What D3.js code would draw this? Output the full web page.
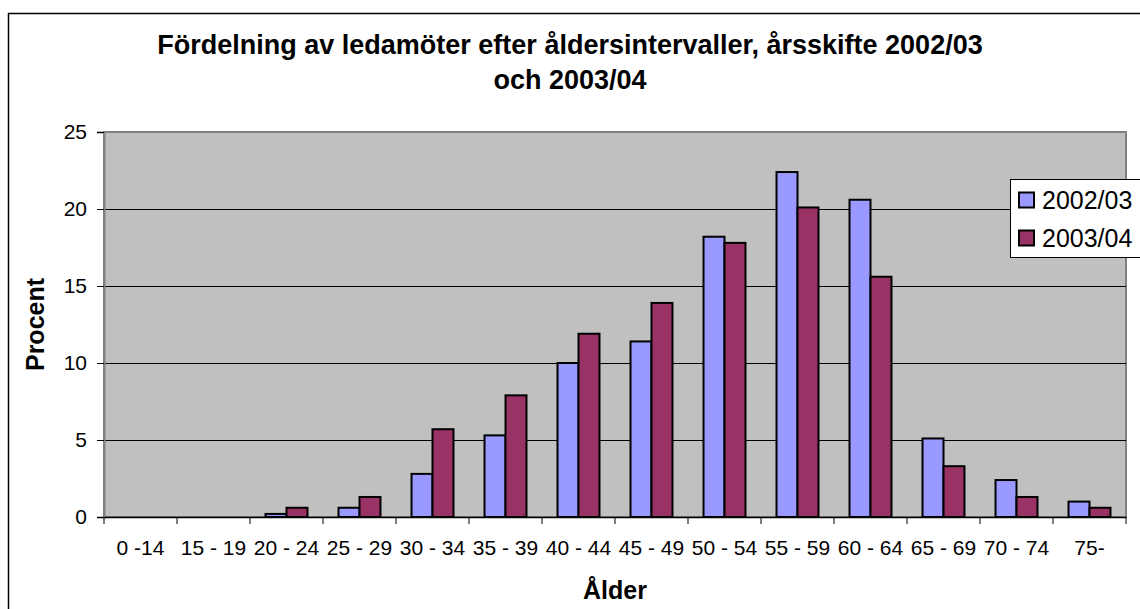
<!DOCTYPE html>
<html>
<head>
<meta charset="utf-8">
<script src="https://cdn.jsdelivr.net/npm/d3@7"></script>
<style>
  body { margin: 0; background: #fff; }
  svg { display: block; font-family: "Liberation Sans", Arial, sans-serif; }
</style>
</head>
<body>
<svg id="chart" width="1140" height="609"></svg>
<script>
// data
var categories = ["0 -14", "15 - 19", "20 - 24", "25 - 29", "30 - 34", "35 - 39", "40 - 44",
                  "45 - 49", "50 - 54", "55 - 59", "60 - 64", "65 - 69", "70 - 74", "75-"];
var series = ["2002/03", "2003/04"];
var values0203 = [0, 0, 0.2, 0.6, 2.8, 5.3, 10.0, 11.4, 18.2, 22.4, 20.6, 5.1, 2.4, 1.0];
var values0304 = [0, 0, 0.6, 1.3, 5.7, 7.9, 11.9, 13.9, 17.8, 20.1, 15.6, 3.3, 1.3, 0.6];
var yTicks = [0, 5, 10, 15, 20, 25];
var colors = ["#9999ff", "#993366"];

var svg = d3.select("#chart");
var plot = { left: 104, right: 1126, top: 132, bottom: 517 };

// outer frame
svg.append("rect")
    .attr("x", 8.5).attr("y", 13.5)
    .attr("width", 1140).attr("height", 620)
    .attr("fill", "#fff").attr("stroke", "#000").attr("stroke-width", 1.5);

var x = d3.scaleBand()
    .domain(categories)
    .range([plot.left, plot.right])
    .paddingInner(0).paddingOuter(0);

var x1 = d3.scaleBand()
    .domain(series)
    .range([0, x.bandwidth()])
    .paddingOuter(0.74);

var y = d3.scaleLinear()
    .domain([0, 25])
    .range([plot.bottom, plot.top]);

// plot area background
svg.append("rect")
    .attr("x", plot.left).attr("y", plot.top)
    .attr("width", plot.right - plot.left).attr("height", plot.bottom - plot.top)
    .attr("fill", "#c0c0c0").attr("stroke", "#808080").attr("stroke-width", 2);

// gridlines
svg.append("g").selectAll("line")
    .data(yTicks.filter(function (d) { return d > 0 && d < 25; }))
    .enter().append("line")
    .attr("x1", plot.left).attr("x2", plot.right)
    .attr("y1", function (d) { return Math.round(y(d)) + 0.5; })
    .attr("y2", function (d) { return Math.round(y(d)) + 0.5; })
    .attr("stroke", "#000").attr("stroke-width", 1);

// bars
var rows = categories.map(function (c, i) {
    return { cat: c, vals: [values0203[i], values0304[i]] };
});

var groups = svg.append("g").selectAll("g")
    .data(rows)
    .enter().append("g")
    .attr("transform", function (d) { return "translate(" + x(d.cat) + ",0)"; });

groups.selectAll("rect")
    .data(function (d) {
        return d.vals.map(function (v, j) { return { s: series[j], v: v, j: j }; })
            .filter(function (e) { return e.v > 0; });
    })
    .enter().append("rect")
    .attr("x", function (d) { return x1(d.s); })
    .attr("y", function (d) { return y(d.v); })
    .attr("width", x1.bandwidth())
    .attr("height", function (d) { return y(0) - y(d.v); })
    .attr("fill", function (d) { return colors[d.j]; })
    .attr("stroke", "#000").attr("stroke-width", 2);

// y axis
var yAxis = svg.append("g")
    .attr("transform", "translate(" + plot.left + ",0)")
    .call(d3.axisLeft(y).tickValues(yTicks).tickSize(7).tickPadding(10));
yAxis.select(".domain").attr("stroke", "#808080").attr("stroke-width", 2);
yAxis.selectAll(".tick line").attr("stroke", "#000");
yAxis.selectAll("text").attr("font-size", 21).attr("fill", "#000")
    .attr("font-family", "Liberation Sans, Arial, sans-serif");

// x axis
var xAxis = svg.append("g")
    .attr("transform", "translate(0," + plot.bottom + ")")
    .call(d3.axisBottom(x).tickSize(0).tickPadding(0));
xAxis.select(".domain").attr("stroke", "#000").attr("stroke-width", 1.5);
xAxis.selectAll("text").attr("font-size", 21).attr("fill", "#000")
    .attr("dy", null).attr("y", 38)
    .attr("font-family", "Liberation Sans, Arial, sans-serif");
svg.append("g").selectAll("line")
    .data(categories.concat(["end"]))
    .enter().append("line")
    .attr("x1", function (d) { return d === "end" ? plot.right : x(d); })
    .attr("x2", function (d) { return d === "end" ? plot.right : x(d); })
    .attr("y1", plot.bottom).attr("y2", plot.bottom + 7)
    .attr("stroke", "#000");

// titles
var title = svg.append("text")
    .attr("x", 570).attr("y", 54)
    .attr("text-anchor", "middle")
    .attr("font-size", 27).attr("font-weight", "bold");
title.append("tspan").attr("x", 570).attr("dy", 0)
    .text("Fördelning av ledamöter efter åldersintervaller, årsskifte 2002/03");
title.append("tspan").attr("x", 570).attr("dy", 35).text("och 2003/04");

svg.append("text")
    .attr("x", (plot.left + plot.right) / 2).attr("y", 599)
    .attr("text-anchor", "middle")
    .attr("font-size", 25).attr("font-weight", "bold")
    .text("Ålder");

svg.append("text")
    .attr("transform", "translate(44," + (plot.top + plot.bottom) / 2 + ") rotate(-90)")
    .attr("text-anchor", "middle")
    .attr("font-size", 25).attr("font-weight", "bold")
    .text("Procent");

// legend
var legend = svg.append("g").attr("transform", "translate(1010,179)");
legend.append("rect")
    .attr("x", 0.5).attr("y", 0.5).attr("width", 140).attr("height", 78)
    .attr("fill", "#fff").attr("stroke", "#000").attr("stroke-width", 1);
var items = legend.selectAll("g.item")
    .data(series)
    .enter().append("g")
    .attr("class", "item")
    .attr("transform", function (d, i) { return "translate(0," + (21 + i * 38) + ")"; });
items.append("rect")
    .attr("x", 9).attr("y", -7.5).attr("width", 15).attr("height", 15)
    .attr("fill", function (d, i) { return colors[i]; })
    .attr("stroke", "#000").attr("stroke-width", 2);
items.append("text")
    .attr("x", 32).attr("y", 9)
    .attr("font-size", 25)
    .text(function (d) { return d; });
</script>
</body>
</html>
